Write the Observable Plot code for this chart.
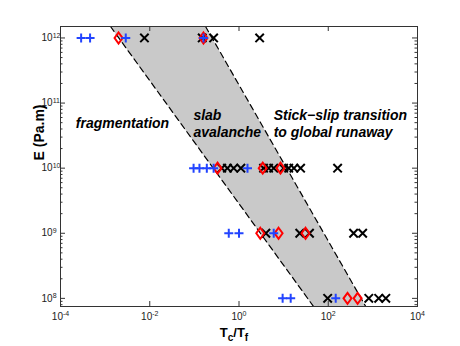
<!DOCTYPE html>
<html>
<head>
<meta charset="utf-8">
<script src="https://cdn.jsdelivr.net/npm/d3@7"></script>
<script src="https://cdn.jsdelivr.net/npm/@observablehq/plot@0.6"></script>
<style>
  html, body { margin: 0; padding: 0; background: #fff; }
  #chart { width: 460px; height: 346px; }
</style>
</head>
<body>
<div id="chart"></div>
<script>
// ---- data ----
// E rows (Pa.m)
const rowE = [1e12, 1e10, 1e9, 1e8];

// Tc/Tf values of each series, per row
const blueRows = [
  [2.9e-4, 4.6e-4, 2.9e-3, 0.16],
  [0.096, 0.13, 0.19, 0.27, 1.55],
  [0.59, 1.0, 6.0],
  [9.5, 14.4, 147]
];
const redRows = [
  [2.0e-3, 0.16],
  [0.33, 3.4, 8.5],
  [3.0, 7.7, 31],
  [270, 455]
];
const blackRows = [
  [7.6e-3, 0.15, 0.27, 2.9],
  [0.41, 0.55, 0.76, 1.1, 3.55, 4.6, 6.0, 10, 13, 17, 24, 162],
  [4.0, 23, 38, 370, 590],
  [97, 810, 1350, 1950]
];

// shaded "slab avalanche" band: edges at the top and bottom of the frame
const bandE = [1.5e12, 7.5e7];
const bandLeft = [1.32e-3, 46.8];
const bandRight = [0.178, 692];

// tick values
const xTicks = [1e-4, 1e-2, 1, 1e2, 1e4];
const yTicks = [1e8, 1e9, 1e10, 1e11, 1e12];
const yMinorTicks = [];
for (let k = 7; k <= 11; k++) for (let m = 2; m <= 9; m++) {
  const v = m * Math.pow(10, k);
  if (v >= 7.5e7 && v <= 1.5e12) yMinorTicks.push(v);
}

// annotations
const noteText = ["fragmentation", "slab\navalanche", "Stick\u2212slip transition\nto global runaway"];
const noteX = [2.2e-4, 0.095, 5.97];
const noteY = [5e10, 5e10, 5e10];

// ---- build tables ----
function flatten(rows) {
  const out = [];
  rows.forEach((r, i) => r.forEach(t => out.push({T: t, E: rowE[i]})));
  return out;
}
const blue = flatten(blueRows);
const red = flatten(redRows);
const black = flatten(blackRows);
const band = bandE.map((e, i) => ({E: e, lo: bandLeft[i], hi: bandRight[i]}));
const notes = noteText.map((t, i) => ({text: t, x: noteX[i], y: noteY[i]}));

// custom marker shapes
const plusSym = {draw(c) { const r = 4.5; c.moveTo(-r, 0); c.lineTo(r, 0); c.moveTo(0, -r); c.lineTo(0, r); }};
const timesSym = {draw(c) { const r = 4.2; c.moveTo(-r, -r); c.lineTo(r, r); c.moveTo(-r, r); c.lineTo(r, -r); }};
const diamondSym = {draw(c) { c.moveTo(0, -5.5); c.lineTo(4, 0); c.lineTo(0, 5.5); c.lineTo(-4, 0); c.closePath(); }};

const W = 460, H = 346, mL = 60, mR = 43, mT = 26, mB = 40;
const innerW = W - mL - mR, innerH = H - mT - mB;
const axisColor = "#333";
const expFmt = d => "10^" + Math.round(Math.log10(d));

const chart = Plot.plot({
  width: W, height: H,
  marginLeft: mL, marginRight: mR, marginTop: mT, marginBottom: mB,
  style: {fontFamily: "'Liberation Sans', Arial, Helvetica, sans-serif", background: "white", color: "#222"},
  x: {type: "log", domain: [1e-4, 1e4], axis: null},
  y: {type: "log", domain: [7.5e7, 1.5e12], axis: null},
  marks: [
    Plot.areaX(band, {y: "E", x1: "lo", x2: "hi", fill: "#c9c9c9", clip: true}),
    Plot.line(band, {x: "lo", y: "E", stroke: "black", strokeWidth: 1.2, strokeDasharray: "6,4", clip: true}),
    Plot.line(band, {x: "hi", y: "E", stroke: "black", strokeWidth: 1.2, strokeDasharray: "6,4", clip: true}),
    Plot.dot(black, {x: "T", y: "E", symbol: timesSym, stroke: "black", fill: "none", strokeWidth: 2}),
    Plot.dot(red, {x: "T", y: "E", symbol: diamondSym, stroke: "#ff0000", fill: "none", strokeWidth: 2}),
    Plot.dot(blue, {x: "T", y: "E", symbol: plusSym, stroke: "#2244ff", fill: "none", strokeWidth: 2}),
    Plot.text(notes, {x: "x", y: "y", text: "text", textAnchor: "start", fontSize: 14, fontWeight: "bold", fontStyle: "italic", lineHeight: 1.21, fill: "black"}),
    Plot.frame({stroke: axisColor}),
    // major ticks (inward) on all four sides
    Plot.tickX(xTicks, {x: d => d, insetTop: innerH - 5, stroke: axisColor}),
    Plot.tickX(xTicks, {x: d => d, insetBottom: innerH - 5, stroke: axisColor}),
    Plot.tickY(yTicks, {y: d => d, insetRight: innerW - 5, stroke: axisColor}),
    Plot.tickY(yTicks, {y: d => d, insetLeft: innerW - 5, stroke: axisColor}),
    Plot.tickY(yMinorTicks, {y: d => d, insetRight: innerW - 2.5, stroke: axisColor}),
    Plot.tickY(yMinorTicks, {y: d => d, insetLeft: innerW - 2.5, stroke: axisColor}),
    // tick labels
    Plot.text(xTicks, {x: d => d, frameAnchor: "bottom", dy: 13, text: expFmt, fontSize: 10, fill: "#222"}),
    Plot.text(yTicks, {y: d => d, frameAnchor: "left", dx: -19, textAnchor: "start", text: expFmt, fontSize: 10, fill: "#222"}),
    // axis labels
    Plot.text(["T_c/T_f"], {frameAnchor: "bottom", dy: 30, dx: -5, text: d => d, fontSize: 13, fontWeight: "bold", fill: "black"}),
    Plot.text(["E (Pa.m)"], {frameAnchor: "left", rotate: -90, dx: -21, dy: -6, text: d => d, fontSize: 14, fontWeight: "bold", fill: "black"})
  ]
});

// turn "10^k" into a base with superscript, and T_c/T_f into subscripts
d3.select(chart).selectAll("text").each(function() {
  const el = d3.select(this);
  const s = this.textContent;
  let m = s.match(/^10\^(-?\d+)$/);
  if (m) {
    el.text(null);
    el.append("tspan").text("10");
    el.append("tspan").attr("dy", "-0.5em").attr("font-size", "7px").text(m[1]);
    return;
  }
  if (s === "T_c/T_f") {
    el.text(null);
    el.append("tspan").text("T");
    el.append("tspan").attr("dy", "4").attr("font-size", "10px").text("c");
    el.append("tspan").attr("dy", "-4").text("/T");
    el.append("tspan").attr("dy", "4").attr("font-size", "10px").text("f");
  }
});

document.getElementById("chart").appendChild(chart);
</script>
</body>
</html>
